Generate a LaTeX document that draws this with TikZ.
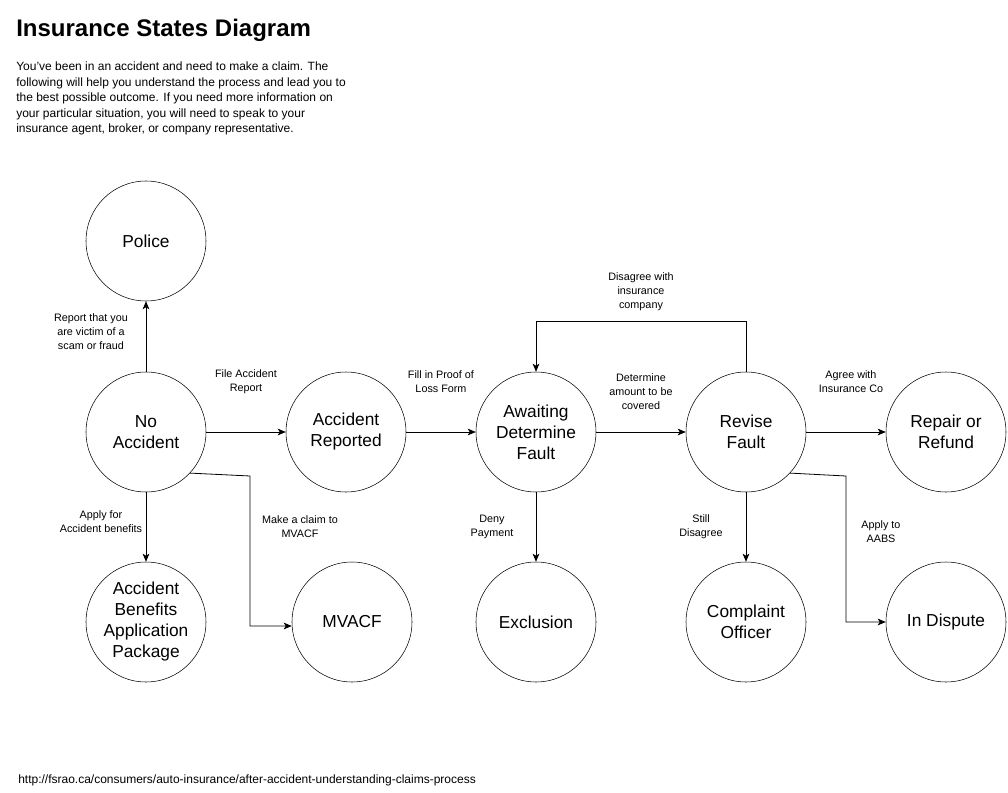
\documentclass[tikz,border=0pt]{standalone}
\usepackage{fontspec}
\setmainfont{Liberation Sans}
\usepackage{tikz}
\usetikzlibrary{arrows.meta, positioning}

\tikzset{
  state/.style={draw, circle, minimum size=90pt, inner sep=0pt, align=center,
    font=\fontsize{13}{15.75}\selectfont},
  edgelabel/.style={align=center, font=\fontsize{8.1}{10.5}\selectfont},
  flow/.style={-{Stealth[length=6pt,width=5pt,inset=1.5pt]}, line width=0.6pt},
}

\begin{document}
\begin{tikzpicture}[x=0.75pt, y=-0.75pt]
  \useasboundingbox (0,0) rectangle (1008,793);
  % ---------- HEADER ----------
  \node[anchor=west, inner sep=0pt, font=\fontsize{18}{21}\selectfont\bfseries] (title) at (16,30) {Insurance States Diagram};
  \node[anchor=north west, align=left, inner sep=0pt, font=\fontsize{9}{11.6}\selectfont] (intro) at (16,62)
    {You’ve been in an accident and need to make a claim. The\\
     following will help you understand the process and lead you to\\
     the best possible outcome. If you need more information on\\
     your particular situation, you will need to speak to your\\
     insurance agent, broker, or company representative.};
  % ---------- STATES ----------
  \node[state] (police)    at (146,241) {Police};
  \node[state] (noacc)     at (146,432) {No\\Accident};
  \node[state] (reported)  at (346,432) {Accident\\Reported};
  \node[state] (awaiting)  at (536,432) {Awaiting\\Determine\\Fault};
  \node[state] (revise)    at (746,432) {Revise\\Fault};
  \node[state] (repair)    at (946,432) {Repair or\\Refund};
  \node[state] (benefits)  at (146,622) {Accident\\Benefits\\Application\\Package};
  \node[state] (mvacf)     at (352,622) {MVACF};
  \node[state] (exclusion) at (536,622) {Exclusion};
  \node[state] (complaint) at (746,622) {Complaint\\Officer};
  \node[state] (dispute)   at (946,622) {In Dispute};
  % ---------- TRANSITIONS ----------
  \draw[flow] (noacc) -- (police);
  \draw[flow] (noacc) -- (reported);
  \draw[flow] (noacc) -- (benefits);
  \draw[flow] (noacc.-43) -- (250,476) |- ([yshift=-3pt]mvacf.west);
  \draw[flow] (reported) -- (awaiting);
  \draw[flow] (awaiting) -- (revise);
  \draw[flow] (awaiting) -- (exclusion);
  \draw[flow] (revise.north) -- (746,321) -| (awaiting.north);
  \draw[flow] (revise) -- (repair);
  \draw[flow] (revise) -- (complaint);
  \draw[flow] (revise.-43) -- (846,476) |- (dispute.west);
  % ---------- LABELS ----------
  \node[edgelabel] (lscam)    at (91,332)  {Report that you\\are victim of a\\scam or fraud};
  \node[edgelabel] (lfile)    at (246,382) {File Accident\\Report};
  \node[edgelabel] (lbenef)   at (101,522) {Apply for\\Accident benefits};
  \node[edgelabel] (lclaim)   at (300,527) {Make a claim to\\MVACF};
  \node[edgelabel] (lproof)   at (441,382) {Fill in Proof of\\Loss Form};
  \node[edgelabel] (lamount)  at (641,392) {Determine\\amount to be\\covered};
  \node[edgelabel] (ldisagree) at (641,292) {Disagree with\\insurance\\company};
  \node[edgelabel] (ldeny)    at (492,527) {Deny\\Payment};
  \node[edgelabel] (lagree)   at (851,382) {Agree with\\Insurance Co};
  \node[edgelabel] (lstill)   at (701,527) {Still\\Disagree};
  \node[edgelabel] (laabs)    at (881,532) {Apply to\\AABS};
  % ---------- FOOTER ----------
  \node[anchor=west, inner sep=0pt, font=\fontsize{9}{11}\selectfont] (source) at (18,780)
    {http://fsrao.ca/consumers/auto-insurance/after-accident-understanding-claims-process};
\end{tikzpicture}
\end{document}
